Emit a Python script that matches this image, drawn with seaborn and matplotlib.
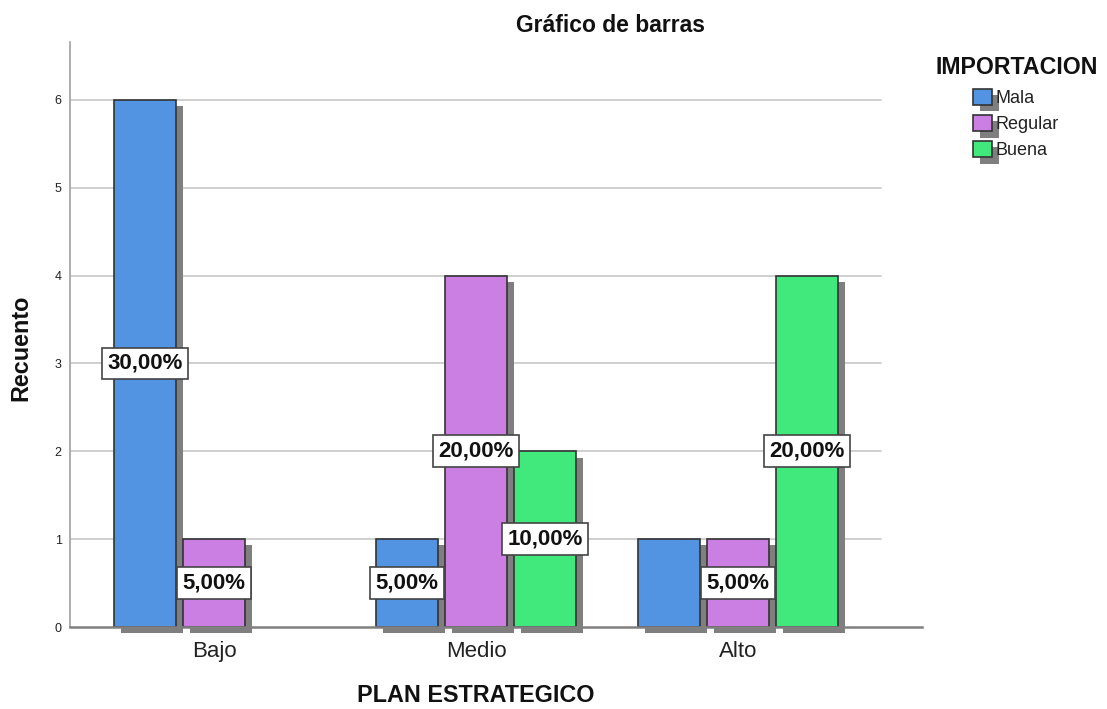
import matplotlib
matplotlib.use("Agg")
import matplotlib.pyplot as plt
import matplotlib.patches as mpatches
import matplotlib.patheffects as pe
import pandas as pd
import seaborn as sns

# Counts per strategic-plan level and import rating
plan = ["Bajo", "Medio", "Alto"]
importacion = ["Mala", "Regular", "Buena"]
recuento_mala = [6, 1, 1]
recuento_regular = [1, 4, 1]
recuento_buena = [0, 2, 4]
colores = ["#5294E2", "#CC7FE2", "#41E97D"]
yticks = [0, 1, 2, 3, 4, 5, 6]
# bars whose percentage label is omitted
sin_etiqueta = [("Alto", "Mala")]

sns.set_style("white")
plt.rcParams["font.family"] = ["Liberation Sans", "DejaVu Sans"]

recuentos = {"Mala": recuento_mala, "Regular": recuento_regular, "Buena": recuento_buena}
df = pd.DataFrame(
    [(p, imp, recuentos[imp][i]) for imp in importacion for i, p in enumerate(plan)],
    columns=["plan", "importacion", "recuento"],
)
total = df["recuento"].sum()

fig = plt.figure(figsize=(11.07, 7.09), dpi=100)
ax = fig.add_axes([70 / 1107, 82 / 709, 852 / 1107, 585 / 709])

sns.barplot(
    data=df, x="plan", y="recuento", hue="importacion",
    order=plan, hue_order=importacion, palette=colores,
    width=0.79, gap=0.1, edgecolor="#333333", linewidth=1.2,
    saturation=1, errorbar=None, legend=False, ax=ax,
)

# drop shadow behind every bar; empty bars are hidden
sombra = [pe.SimplePatchShadow(offset=(5, -4.5), shadow_rgbFace="#7f7f7f", alpha=1.0), pe.Normal()]
for bar in ax.patches:
    bar.set_path_effects(sombra)
    bar.set_clip_on(False)
    if bar.get_height() == 0:
        bar.set_visible(False)

# percentage labels in the middle of each bar
for imp, cont in zip(importacion, ax.containers):
    labs = []
    for p, n in zip(plan, recuentos[imp]):
        if n == 0 or (p, imp) in sin_etiqueta:
            labs.append("")
        else:
            labs.append(f"{100 * n / total:.2f}%".replace(".", ","))
    ax.bar_label(
        cont, labels=labs, label_type="center", fontsize=16, fontweight="bold",
        color="#111111", zorder=5,
        bbox=dict(boxstyle="square,pad=0.24", fc="white", ec="#444444", lw=1.2),
    )

ax.set_xlim(-0.5496, 2.7023)
ax.set_ylim(0, 6.66)
ax.set_yticks(yticks)
ax.tick_params(axis="y", length=0, pad=6, labelsize=9, labelcolor="#222222")
ax.tick_params(axis="x", length=0, pad=10.4, labelsize=16, labelcolor="#222222")

for y in yticks[1:]:
    ax.axhline(y, xmin=0, xmax=(881 - 70) / 852, color="#cccccc", lw=1.3, zorder=0.5)

for s in ["top", "right"]:
    ax.spines[s].set_visible(False)
ax.spines["left"].set_color("#a0a0a0")
ax.spines["left"].set_linewidth(1.2)
ax.spines["bottom"].set_color("#808080")
ax.spines["bottom"].set_linewidth(1.8)

ax.set_xlabel("PLAN ESTRATEGICO", fontsize=16.8, fontweight="bold", color="#111111")
ax.xaxis.set_label_coords(0.4765, -0.0973)
ax.set_ylabel("Recuento", fontsize=16.8, fontweight="bold", color="#111111")
ax.yaxis.set_label_coords(-0.0446, 0.477)

fig.text(611 / 1107, 1 - 31.5 / 709, "Gráfico de barras", ha="center", va="baseline",
         fontsize=16.5, fontweight="bold", color="#111111")

# legend: title set as figure text, entries below it
fig.text(1017 / 1107, 1 - 73.5 / 709, "IMPORTACION", ha="center", va="baseline",
         fontsize=16.7, fontweight="bold", color="#111111")
handles = [
    mpatches.Patch(facecolor=c, edgecolor="#333333", linewidth=1.2, label=l, path_effects=sombra)
    for c, l in zip(colores, importacion)
]
leg = ax.legend(
    handles=handles, loc="upper left",
    bbox_to_anchor=(973 / 1107, 1 - 88.5 / 709), bbox_transform=fig.transFigure,
    frameon=False, fontsize=13,
    handlelength=1.05, handleheight=1.05, handletextpad=0.2, labelspacing=0.42,
    borderpad=0, borderaxespad=0,
)
for t in leg.get_texts():
    t.set_color("#222222")

fig.savefig("out.png", dpi=100)
